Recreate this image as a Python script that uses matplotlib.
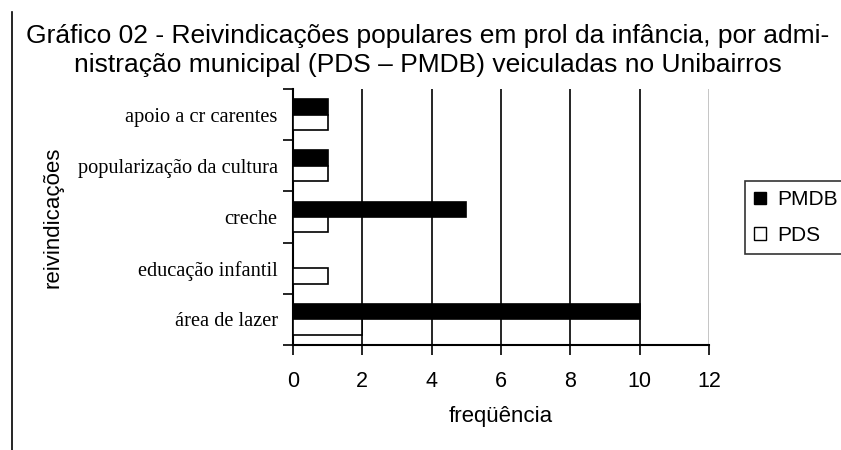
import numpy as np
import matplotlib.pyplot as plt
from matplotlib.patches import Patch
from matplotlib.lines import Line2D

# ------------------------------------------------------------
# Data
# ------------------------------------------------------------

categorias = ["área de lazer", "educação infantil", "creche",
              "popularização da cultura", "apoio a cr carentes"]
pmdb = [10, 0, 5, 1, 1]
pds = [2, 1, 1, 1, 1]
xticks = [0, 2, 4, 6, 8, 10, 12]

titulo = ("Gráfico 02 - Reivindicações populares em prol da infância, por admi-\n"
          "nistração municipal (PDS – PMDB) veiculadas no Unibairros")

# ------------------------------------------------------------
# Figure
# ------------------------------------------------------------

W, H = 841, 450
fig = plt.figure(figsize=(W / 100, H / 100), dpi=100)
ax = fig.add_axes([293 / W, 1 - 345 / H, (709 - 293) / W, (345 - 89) / H])

y = np.arange(len(categorias))
h = 0.3
ax.barh(y + h / 2, pmdb, height=h, color="black", edgecolor="black", linewidth=1.2, zorder=3)
ax.barh(y - h / 2, pds, height=h, color="white", edgecolor="black", linewidth=1.2, zorder=3)

ax.set_xlim(0, 12)
ax.set_ylim(-0.5, len(categorias) - 0.5)

# vertical gridlines
for v in xticks[1:-1]:
    ax.axvline(v, color="black", linewidth=1.2, zorder=1)
ax.axvline(xticks[-1], color="#bbbbbb", linewidth=1.2, zorder=1)

ax.set_xticks(xticks)
ax.set_xticklabels([str(v) for v in xticks], fontsize=15.5, family="Liberation Sans")
ax.tick_params(axis="x", direction="out", length=7, width=1.2, pad=12)

ax.set_yticks(y)
ax.set_yticklabels(categorias, fontsize=14.7, family="Liberation Serif")
ax.set_yticks(np.arange(-0.5, len(categorias), 1), minor=True)
ax.tick_params(axis="y", which="major", length=0, pad=11)
ax.tick_params(axis="y", which="minor", direction="out", length=7, width=1.2)

for s in ["top", "right"]:
    ax.spines[s].set_visible(False)
for s in ["left", "bottom"]:
    ax.spines[s].set_linewidth(1.5)

ax.set_xlabel("freqüência", fontsize=16, family="Liberation Sans", labelpad=10)
ax.set_ylabel("reivindicações", fontsize=16, family="Liberation Sans", labelpad=10)

fig.text(0.509, 1 - 24 / H, titulo, ha="center", va="top", fontsize=19,
         family="Liberation Sans", linespacing=1.25)

# left frame line
fig.add_artist(Line2D([12 / W, 12 / W], [0, 1 - 12 / H], color="black", linewidth=1.2))

handles = [Patch(facecolor="black", edgecolor="black", label="PMDB"),
           Patch(facecolor="white", edgecolor="black", label="PDS")]
leg = fig.legend(handles=handles, loc="upper left",
                 bbox_to_anchor=(745 / W, 1 - 181 / H, 110 / W, 0), mode="expand",
                 prop={"family": "Liberation Sans", "size": 15}, frameon=True,
                 fancybox=False, edgecolor="black", handlelength=0.55, handleheight=0.55,
                 handletextpad=0.55, borderpad=0.45, labelspacing=0.8, borderaxespad=0)
leg.get_frame().set_linewidth(1.2)

fig.savefig("out.png", dpi=100)
